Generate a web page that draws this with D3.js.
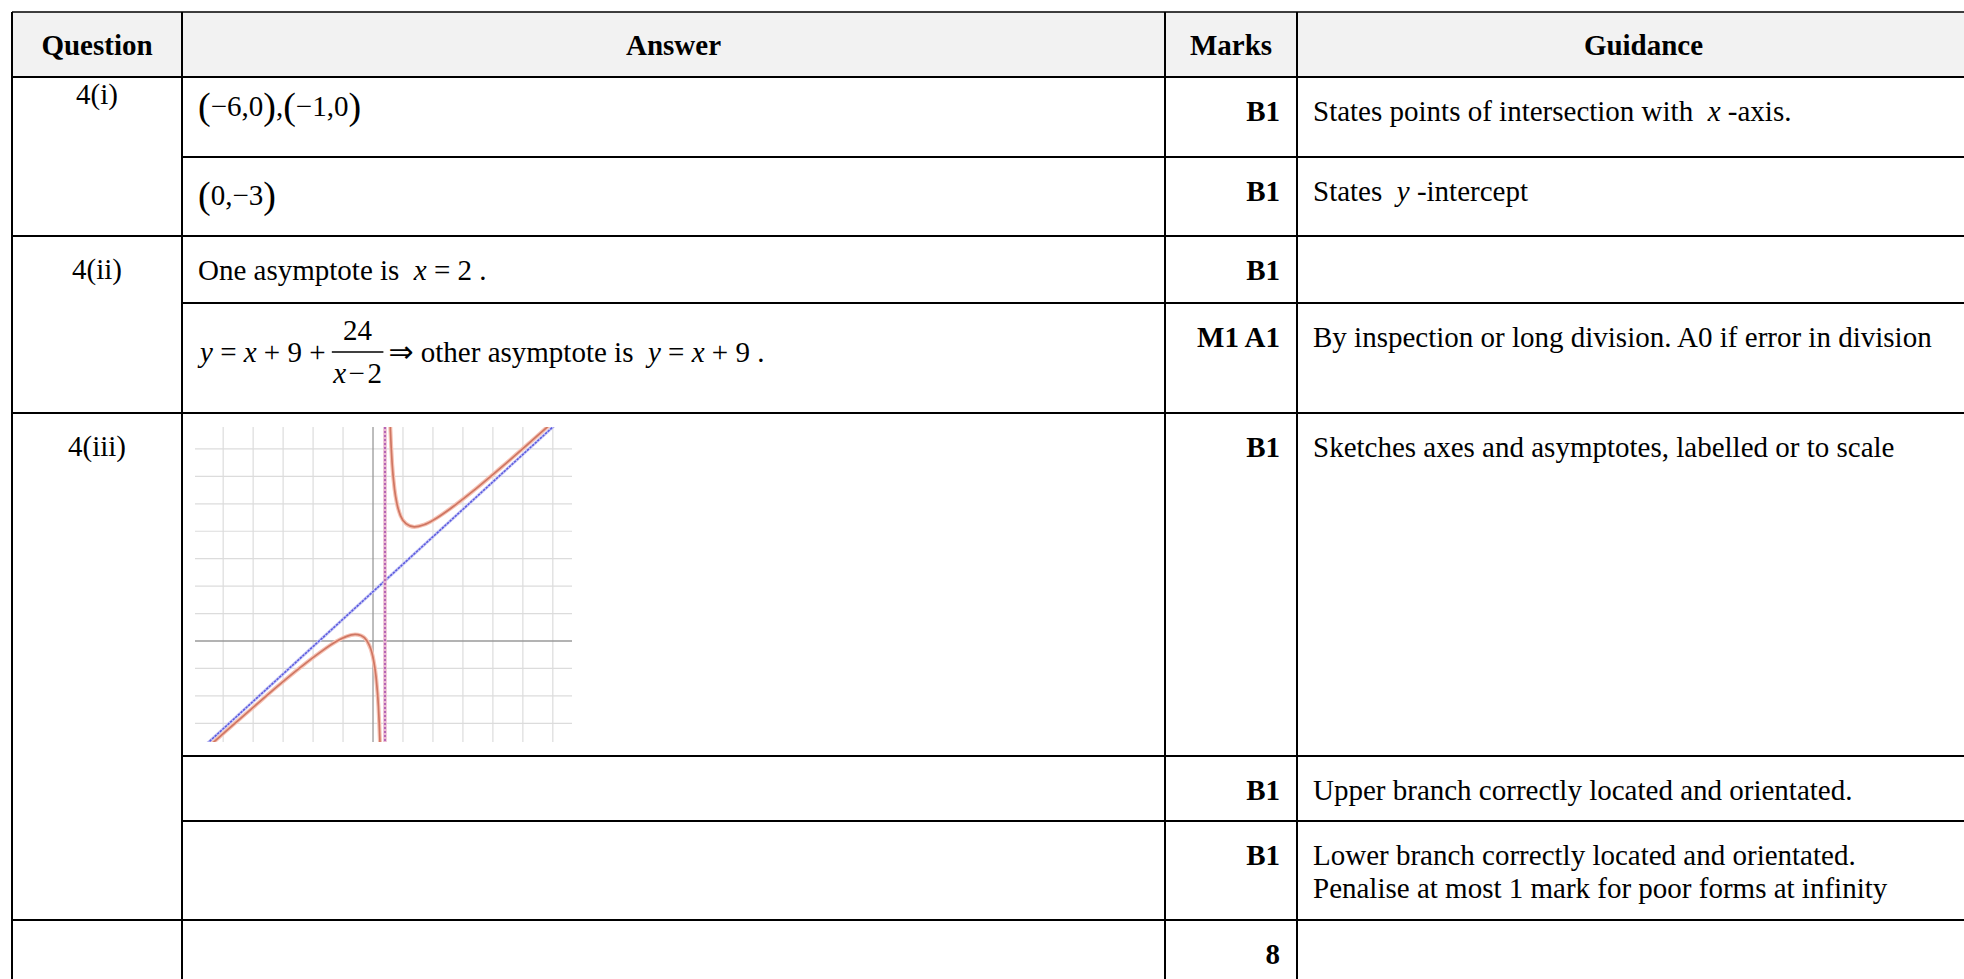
<!DOCTYPE html>
<html>
<head>
<meta charset="utf-8">
<script src="https://cdn.jsdelivr.net/npm/d3@7"></script>
<style>
body { margin: 0; background: #fff; }
svg text { font-family: "Liberation Serif", "Times New Roman", "DejaVu Serif", serif; white-space: pre; fill: #000; }
</style>
</head>
<body>
<script>
// table content
var headers = ["Question", "Answer", "Marks", "Guidance"];
var questions = ["4(i)", "4(ii)", "4(iii)", ""];
var questionRows = [0, 2, 4, 7]; // first sub-row of each question
var marks = ["B1", "B1", "B1", "M1 A1", "B1", "B1", "B1", "8"];
var guidance = [
    ["States points of intersection with  *x* -axis."],
    ["States  *y* -intercept"],
    [],
    ["By inspection or long division. A0 if error in division"],
    ["Sketches axes and asymptotes, labelled or to scale"],
    ["Upper branch correctly located and orientated."],
    ["Lower branch correctly located and orientated.", "Penalise at most 1 mark for poor forms at infinity"],
    []
];

// sketch, points
var gridX = [-25, -20, -15, -10, -5, 5, 10, 15, 20, 25, 30];
var gridY = [-15, -10, -5, 5, 10, 15, 20, 25, 30, 35];
var upperBranch = [[2.75, 43.7], [2.9, 38.6], [3.2, 32.2], [3.6, 27.6], [4, 25], [4.6, 22.8], [5.5, 21.4],
    [6.9, 20.8], [8.5, 21.2], [10, 22], [13, 24.2], [17, 27.6], [22, 32.2], [26.5, 36.5], [29.5, 39.4], [32, 41.8]];
var lowerBranch = [[-29, -20.8], [-24, -15.9], [-20, -12.1], [-16, -8.3], [-12, -4.7], [-9, -2.2], [-6, 0],
    [-4.5, 0.8], [-3, 1.2], [-2, 1], [-1, 0], [0, -3], [0.5, -6.5], [0.9, -11.9], [1.15, -18.1], [1.25, -21.7]];
var obliqueAsymptote = [[-29, -20], [34, 43]];
var verticalAsymptote = 2;

var W = 1964, H = 979;
var colX = [12, 182, 1165, 1297, 1990];
var rowY = [12, 77, 157, 236, 303, 413, 756, 821, 920, 1010];

var svg = d3.select("body").append("svg")
    .attr("width", W)
    .attr("height", H);

// header shading
svg.append("rect")
    .attr("x", colX[0]).attr("y", rowY[0])
    .attr("width", colX[4] - colX[0]).attr("height", rowY[1] - rowY[0])
    .attr("fill", "#f2f2f2");

// italic parts are wrapped in *...*
function richText(sel, str) {
    str.split("*").forEach(function(part, i) {
        if (part === "") return;
        sel.append("tspan").text(part).style("font-style", i % 2 ? "italic" : "normal");
    });
}

// header text
svg.selectAll("text.head")
    .data(headers)
    .enter()
    .append("text")
    .attr("class", "head")
    .attr("x", function(d, i) { return (colX[i] + colX[i + 1]) / 2; })
    .attr("y", 55)
    .attr("text-anchor", "middle")
    .style("font-size", "29px")
    .style("font-weight", "bold")
    .text(function(d) { return d; });

// question labels
svg.selectAll("text.q")
    .data(questions)
    .enter()
    .append("text")
    .attr("class", "q")
    .attr("x", (colX[0] + colX[1]) / 2)
    .attr("y", function(d, i) { return rowY[questionRows[i] + 1] + (i === 0 ? 27 : 43); })
    .attr("text-anchor", "middle")
    .style("font-size", "29px")
    .text(function(d) { return d; });

// marks
svg.selectAll("text.m")
    .data(marks)
    .enter()
    .append("text")
    .attr("class", "m")
    .attr("x", 1280)
    .attr("y", function(d, i) { return rowY[i + 1] + 44; })
    .attr("text-anchor", "end")
    .style("font-size", "29px")
    .style("font-weight", "bold")
    .text(function(d) { return d; });

// guidance
guidance.forEach(function(lines, i) {
    lines.forEach(function(line, j) {
        var t = svg.append("text")
            .attr("x", 1313)
            .attr("y", rowY[i + 1] + 44 + j * 33)
            .style("font-size", "29px");
        richText(t, line);
    });
});

// answers, big brackets as in the equation editor
function bracketed(sel, parts, base) {
    parts.forEach(function(p) {
        var big = p === "(" || p === ")";
        sel.append("tspan").text(p)
            .attr("y", big ? base + 3 : base)
            .style("font-size", big ? "38px" : null);
    });
}
var a1 = svg.append("text").attr("x", 198).attr("y", 116).style("font-size", "29px");
bracketed(a1, ["(", "\u22126,0", ")", ",", "(", "\u22121,0", ")"], 116);

var a2 = svg.append("text").attr("x", 198).attr("y", 205).style("font-size", "29px");
bracketed(a2, ["(", "0,\u22123", ")"], 205);

var a3 = svg.append("text").attr("x", 198).attr("y", 280).style("font-size", "29px");
richText(a3, "One asymptote is  *x* = 2 .");

// y = x + 9 + 24/(x-2) => other asymptote is y = x + 9 .
var eqBase = 362;
var e1 = svg.append("text").attr("x", 200).attr("y", eqBase).style("font-size", "29px");
richText(e1, "*y* = *x* + 9 + ");
var fx = 200 + e1.node().getComputedTextLength() - 1;
var den = svg.append("text").attr("y", eqBase + 21).style("font-size", "29px");
richText(den, "*x*\u200A\u2212\u200A2");
var fw = den.node().getComputedTextLength() + 3;
den.attr("x", fx + fw / 2).attr("text-anchor", "middle");
svg.append("text").attr("x", fx + fw / 2).attr("y", eqBase - 22)
    .attr("text-anchor", "middle").style("font-size", "29px").text("24");
svg.append("line")
    .attr("x1", fx).attr("x2", fx + fw)
    .attr("y1", eqBase - 10).attr("y2", eqBase - 10)
    .attr("stroke", "#000").attr("stroke-width", 1.3);
var e2 = svg.append("text").attr("x", fx + fw + 5).attr("y", eqBase).style("font-size", "29px");
e2.append("tspan").text("\u21D2").style("font-family", "DejaVu Sans").style("font-size", "30px");
richText(e2, " other asymptote is  *y* = *x* + 9 .");

// sketch
var x = d3.scaleLinear().domain([-29.7, 33.2]).range([195, 572]);
var y = d3.scaleLinear().domain([-18.4, 39]).range([742, 427]);

svg.append("clipPath").attr("id", "gclip")
    .append("rect")
    .attr("x", x.range()[0]).attr("y", y.range()[1])
    .attr("width", x.range()[1] - x.range()[0])
    .attr("height", y.range()[0] - y.range()[1]);

var g = svg.append("g").attr("clip-path", "url(#gclip)");

g.selectAll("line.gx")
    .data(gridX)
    .enter()
    .append("line")
    .attr("x1", function(d) { return x(d); }).attr("x2", function(d) { return x(d); })
    .attr("y1", y.range()[1]).attr("y2", y.range()[0])
    .attr("stroke", "#dcdcdc").attr("stroke-width", 1.2);

g.selectAll("line.gy")
    .data(gridY)
    .enter()
    .append("line")
    .attr("y1", function(d) { return y(d); }).attr("y2", function(d) { return y(d); })
    .attr("x1", x.range()[0]).attr("x2", x.range()[1])
    .attr("stroke", "#dcdcdc").attr("stroke-width", 1.2);

// axes
g.append("line")
    .attr("x1", x.range()[0]).attr("x2", x.range()[1])
    .attr("y1", y(0)).attr("y2", y(0))
    .attr("stroke", "#9a9a9a").attr("stroke-width", 1.3);
g.append("line")
    .attr("x1", x(0)).attr("x2", x(0))
    .attr("y1", y.range()[1]).attr("y2", y.range()[0])
    .attr("stroke", "#9a9a9a").attr("stroke-width", 1.3);

var line = d3.line()
    .x(function(d) { return x(d[0]); })
    .y(function(d) { return y(d[1]); });

// oblique asymptote
g.append("path")
    .attr("d", line(obliqueAsymptote))
    .attr("fill", "none")
    .attr("stroke", "#c8c8f4")
    .attr("stroke-width", 3);
g.append("path")
    .attr("d", line(obliqueAsymptote))
    .attr("fill", "none")
    .attr("stroke", "#5a5ae0")
    .attr("stroke-width", 1.5)
    .attr("stroke-dasharray", "2.5,1");

// vertical asymptote
g.append("line")
    .attr("x1", x(verticalAsymptote)).attr("x2", x(verticalAsymptote))
    .attr("y1", y.range()[1]).attr("y2", y.range()[0])
    .attr("stroke", "#eab8d0").attr("stroke-width", 3.5);
g.append("line")
    .attr("x1", x(verticalAsymptote)).attr("x2", x(verticalAsymptote))
    .attr("y1", y.range()[1]).attr("y2", y.range()[0])
    .attr("stroke", "#9a3aa8").attr("stroke-width", 1.3)
    .attr("stroke-dasharray", "2,2");

// curve branches
var curveLine = d3.line()
    .x(function(d) { return x(d[0]); })
    .y(function(d) { return y(d[1]); })
    .curve(d3.curveMonotoneX);

[upperBranch, lowerBranch].forEach(function(b) {
    g.append("path")
        .attr("d", curveLine(b))
        .attr("fill", "none")
        .attr("stroke", "#f6c2b4")
        .attr("stroke-width", 4);
    g.append("path")
        .attr("d", curveLine(b))
        .attr("fill", "none")
        .attr("stroke", "#cf7662")
        .attr("stroke-width", 1.7);
});

// table rules
var hLines = [];
hLines.push({ y: rowY[0], x1: colX[0], w: 1.3 });
hLines.push({ y: rowY[1], x1: colX[0], w: 2 });
for (var i = 1; i < 8; i++) {
    hLines.push({ y: rowY[i + 1], x1: questionRows.indexOf(i) >= 0 ? colX[0] : colX[1], w: 2 });
}
svg.selectAll("line.h")
    .data(hLines)
    .enter()
    .append("line")
    .attr("x1", function(d) { return d.x1; })
    .attr("x2", colX[4])
    .attr("y1", function(d) { return d.y; })
    .attr("y2", function(d) { return d.y; })
    .attr("stroke", "#000")
    .attr("stroke-width", function(d) { return d.w; });

svg.selectAll("line.v")
    .data(colX.slice(0, 4))
    .enter()
    .append("line")
    .attr("x1", function(d) { return d; })
    .attr("x2", function(d) { return d; })
    .attr("y1", rowY[0])
    .attr("y2", H)
    .attr("stroke", "#000")
    .attr("stroke-width", 2);
</script>
</body>
</html>
